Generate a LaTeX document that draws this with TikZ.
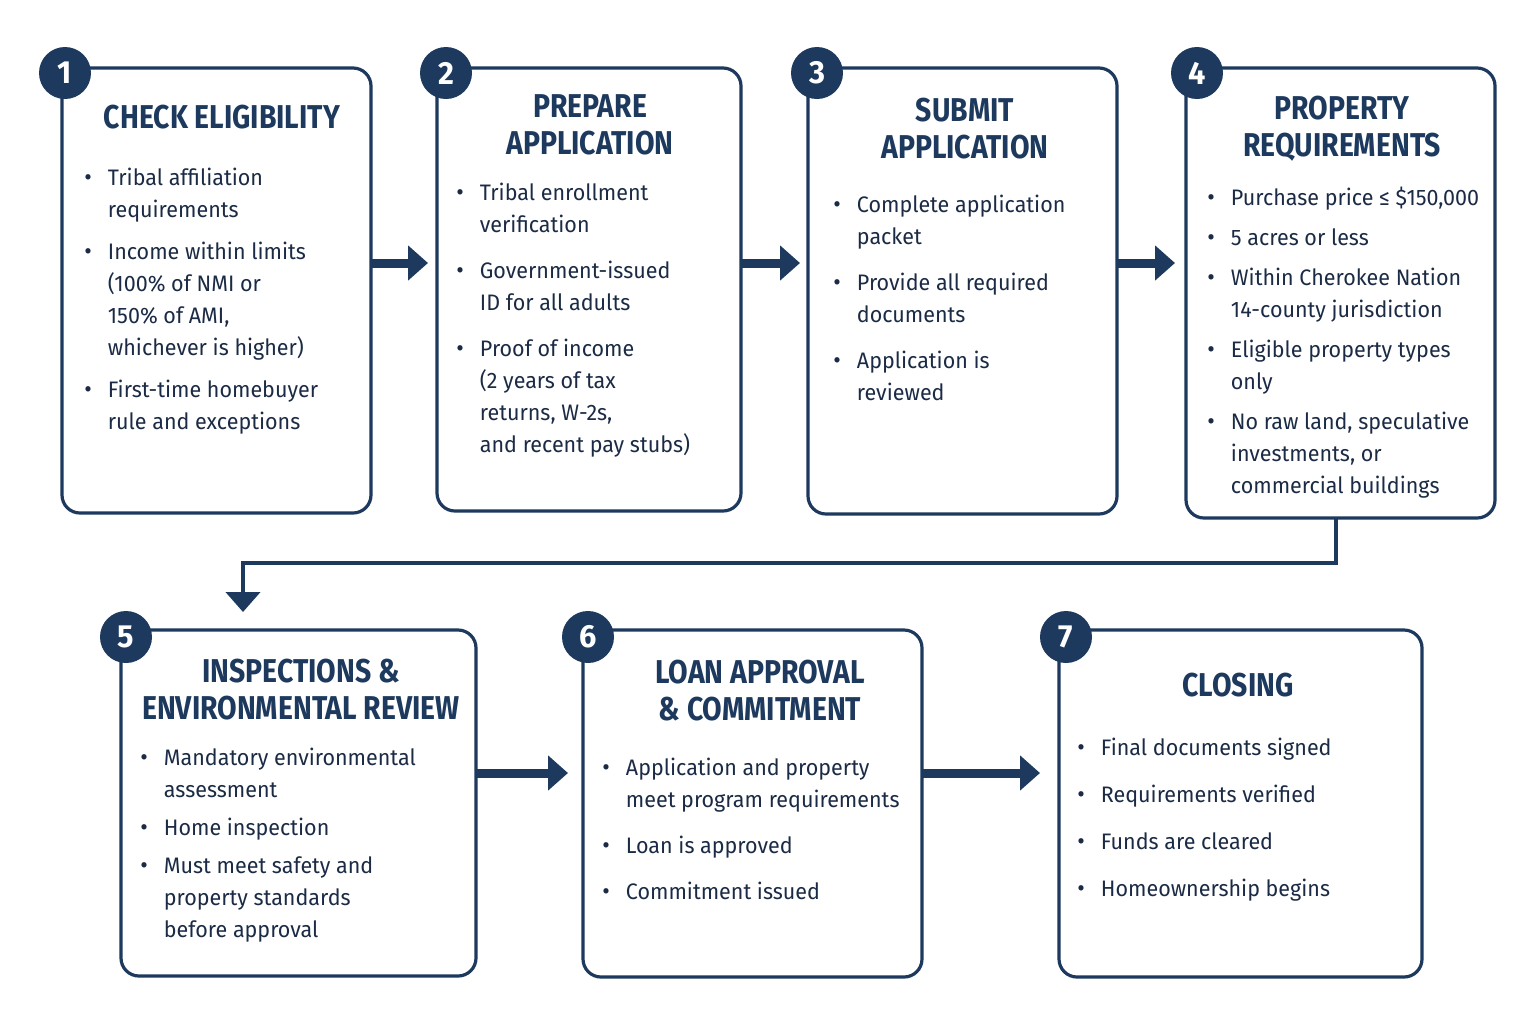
\documentclass[tikz,border=0pt]{standalone}
\usepackage{fontspec}
\setmainfont{Fira Sans}[FakeStretch=0.96]
\newfontfamily\ttl{Fira Sans}[FakeStretch=0.86]
\usetikzlibrary{arrows.meta}
\definecolor{navy}{HTML}{1D3A5E}
\definecolor{txt}{HTML}{1B2B45}
\newlength{\bgap}\setlength{\bgap}{5pt}
\newcommand{\bl}[1]{\par\hangindent=1.05em\hangafter=1\noindent\makebox[1.05em][l]{\large\textbullet}#1\par\vspace{\bgap}}
\begin{document}
\begin{tikzpicture}[x=0.5pt,y=-0.5pt,
 box/.style={draw=navy,line width=1.6pt,rounded corners=9pt,fill=white},
 num/.style={circle,fill=navy,text=white,minimum size=26pt,inner sep=0pt,font=\bfseries\fontsize{16}{16}\selectfont},
 ttlst/.style={text=navy,align=center,font=\ttl\bfseries\fontsize{16.5}{18.5}\selectfont},
 body/.style={anchor=north west,text=txt,align=left,inner sep=0pt,font=\fontsize{11.2}{16}\selectfont},
 arr/.style={draw=navy,line width=4.5pt,-{Triangle[length=10pt,width=17pt]}}]
\useasboundingbox[fill=white] (0,0) rectangle (1535,1024);
\node[draw=none,minimum width=154.5pt,minimum height=222.5pt] (B1) at (216.5,290.5) {};
\draw[box] (62,68) rectangle (371,513);
\node[draw=none,minimum width=152pt,minimum height=221.5pt] (B2) at (589,289.5) {};
\draw[box] (437,68) rectangle (741,511);
\node[draw=none,minimum width=154.5pt,minimum height=223pt] (B3) at (962.5,291) {};
\draw[box] (808,68) rectangle (1117,514);
\node[draw=none,minimum width=154.5pt,minimum height=225pt] (B4) at (1340.5,293) {};
\draw[box] (1186,68) rectangle (1495,518);
\node[draw=none,minimum width=177.5pt,minimum height=173pt] (B5) at (298.5,803) {};
\draw[box] (121,630) rectangle (476,976);
\node[draw=none,minimum width=169.5pt,minimum height=173.5pt] (B6) at (752.5,803.5) {};
\draw[box] (583,630) rectangle (922,977);
\node[draw=none,minimum width=181.5pt,minimum height=173.5pt] (B7) at (1240.5,803.5) {};
\draw[box] (1059,630) rectangle (1422,977);
% numbers
\node[num] (n1) at (65,73) {1};
\node[num] (n2) at (446,73) {2};
\node[num] (n3) at (817,73) {3};
\node[num] (n4) at (1197,73) {4};
\node[num] (n5) at (126,637) {5};
\node[num] (n6) at (588,637) {6};
\node[num] (n7) at (1066,637) {7};
% titles
\node[ttlst] (t1) at (222,117) {CHECK ELIGIBILITY};
\node[ttlst] (t2) at (590,125) {PREPARE\\APPLICATION};
\node[ttlst] (t3) at (965,129) {SUBMIT\\APPLICATION};
\node[ttlst] (t4) at (1342,129) {PROPERTY\\REQUIREMENTS};
\node[ttlst] (t5) at (301,690) {INSPECTIONS \&\\ENVIRONMENTAL REVIEW};
\node[ttlst] (t6) at (760,691) {LOAN APPROVAL\\\& COMMITMENT};
\node[ttlst] (t7) at (1238,685) {CLOSING};
% bodies
\node[body] (d1) at (84,168) {\parbox{140pt}{\bl{Tribal affiliation\\requirements}\bl{Income within limits\\(100\% of NMI or\\150\% of AMI,\\whichever is higher)}\bl{First-time homebuyer\\rule and exceptions}}};
\node[body] (d2) at (456,183) {\parbox{140pt}{\setlength{\bgap}{7pt}\bl{Tribal enrollment\\verification}\bl{Government-issued\\ID for all adults}\bl{Proof of income\\(2 years of tax\\returns, W-2s,\\and recent pay stubs)}}};
\node[body] (d3) at (833,195) {\parbox{140pt}{\setlength{\bgap}{7pt}\bl{Complete application\\packet}\bl{Provide all required\\documents}\bl{Application is\\reviewed}}};
\node[body] (d4) at (1207,187) {\parbox{145pt}{\setlength{\bgap}{4pt}\bl{Purchase price ≤ \$150,000}\bl{5 acres or less}\bl{Within Cherokee Nation\\14-county jurisdiction}\bl{Eligible property types\\only}\bl{No raw land, speculative\\investments, or\\commercial buildings}}};
\node[body] (d5) at (140,748) {\parbox{160pt}{\setlength{\bgap}{3pt}\bl{Mandatory environmental\\assessment}\bl{Home inspection}\bl{Must meet safety and\\property standards\\before approval}}};
\node[body] (d6) at (602,758) {\parbox{165pt}{\setlength{\bgap}{7pt}\bl{Application and property\\meet program requirements}\bl{Loan is approved}\bl{Commitment issued}}};
\node[body] (d7) at (1077,738) {\parbox{160pt}{\setlength{\bgap}{7.5pt}\bl{Final documents signed}\bl{Requirements verified}\bl{Funds are cleared}\bl{Homeownership begins}}};
% arrows
\draw[arr] (B1.east|-0,263) -- (428,263);
\draw[arr] (B2.east|-0,263) -- (800,263);
\draw[arr] (B3.east|-0,263) -- (1175,263);
\draw[arr] (B5.east|-0,773) -- (568,773);
\draw[arr] (B6.east|-0,773) -- (1040,773);
\draw[draw=navy,line width=2.2pt,-{Triangle[length=10pt,width=17pt]}] (B4.south-|1336,0) -- (1336,563) -- (243,563) -- (243,612);
\end{tikzpicture}
\end{document}
